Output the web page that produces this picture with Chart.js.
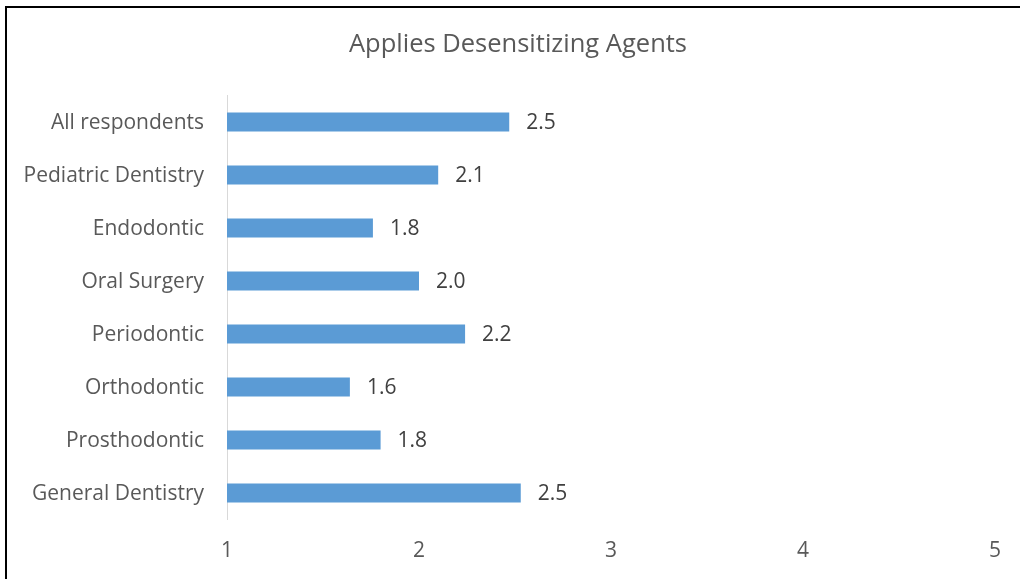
<!DOCTYPE html>
<html>
<head>
<meta charset="utf-8">
<script src="https://cdn.jsdelivr.net/npm/chart.js@4/dist/chart.umd.min.js"></script>
<style>
html,body{margin:0;padding:0;background:#fff;}
#wrap{position:relative;width:1020px;height:579px;}
#frame{position:absolute;left:5px;top:6px;width:1030px;height:600px;border-left:2px solid #000;border-top:2px solid #000;pointer-events:none;}
</style>
</head>
<body>
<div id="wrap">
<canvas id="c" width="1020" height="579"></canvas>
<div id="frame"></div>
</div>
<script>
const categories = ["All respondents","Pediatric Dentistry","Endodontic","Oral Surgery","Periodontic","Orthodontic","Prosthodontic","General Dentistry"];
const values = [2.47, 2.10, 1.76, 2.00, 2.24, 1.64, 1.80, 2.53];
const tickValues = [1, 2, 3, 4, 5];
const chartTitle = "Applies Desensitizing Agents";

const FONT = "'Open Sans', 'Noto Sans', sans-serif";

const valueLabels = {
  id: 'valueLabels',
  afterDatasetsDraw(chart) {
    const ctx = chart.ctx;
    const meta = chart.getDatasetMeta(0);
    ctx.save();
    ctx.font = "21px " + FONT;
    ctx.fillStyle = "#404040";
    ctx.textAlign = "left";
    ctx.textBaseline = "middle";
    meta.data.forEach((bar, i) => {
      ctx.fillText(values[i].toFixed(1), bar.x + 17, bar.y + 1);
    });
    ctx.restore();
  }
};

new Chart(document.getElementById('c'), {
  type: 'bar',
  data: {
    labels: categories,
    datasets: [{
      data: values,
      backgroundColor: '#5B9BD5',
      borderWidth: 0,
      barPercentage: 0.9,
      categoryPercentage: 0.4
    }]
  },
  options: {
    indexAxis: 'y',
    responsive: false,
    animation: false,
    layout: { padding: { left: 41, right: 25, top: 0, bottom: 0 } },
    plugins: {
      legend: { display: false },
      tooltip: { enabled: false },
      title: {
        display: true,
        text: chartTitle,
        color: '#595959',
        font: { family: FONT, size: 25.5, weight: 'normal' },
        padding: { top: 29.7, bottom: 35.2 }
      }
    },
    scales: {
      x: {
        type: 'linear',
        min: 1,
        max: 5,
        afterBuildTicks(scale) { scale.ticks = tickValues.map(v => ({ value: v })); },
        afterFit(scale) { scale.height = 59.5; },
        grid: { display: false, drawTicks: false },
        border: { display: false },
        ticks: {
          color: '#595959',
          padding: 19,
          font: { family: FONT, size: 21 }
        }
      },
      y: {
        afterFit(scale) {
          scale.width = 186;
          scale._computeLabelArea = function () { return undefined; };
        },
        grid: { display: false, drawTicks: false },
        border: { display: true, color: '#d9d9d9', width: 1 },
        ticks: {
          color: '#595959',
          padding: 23,
          labelOffset: 1,
          font: { family: FONT, size: 21 }
        }
      }
    }
  },
  plugins: [valueLabels]
});
</script>
</body>
</html>
